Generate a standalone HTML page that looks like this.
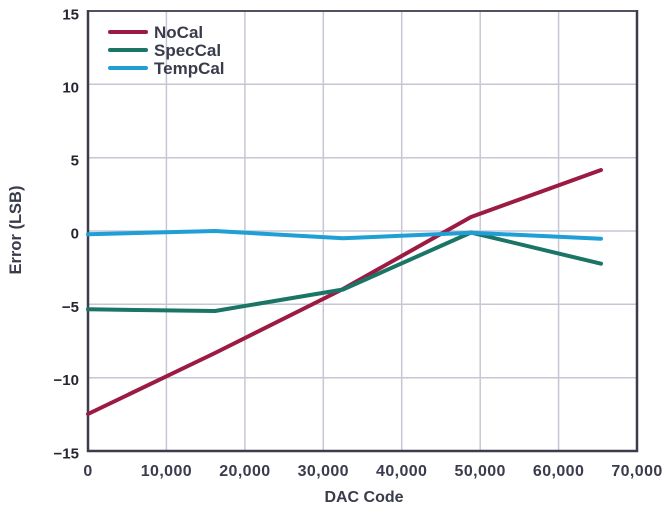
<!DOCTYPE html>
<html>
<head>
<meta charset="utf-8">
<style>
html,body{margin:0;padding:0;background:#ffffff;}
svg{display:block;}
text{font-family:"Liberation Sans",Arial,sans-serif;font-weight:bold;}
</style>
</head>
<body>
<svg width="671" height="512" viewBox="0 0 671 512" xmlns="http://www.w3.org/2000/svg">
  <rect x="0" y="0" width="671" height="512" fill="#ffffff"/>
  <!-- grid -->
  <g stroke="#c6c7d4" stroke-width="1.5" fill="none">
    <line x1="166.4" y1="11" x2="166.4" y2="451"/>
    <line x1="244.9" y1="11" x2="244.9" y2="451"/>
    <line x1="323.3" y1="11" x2="323.3" y2="451"/>
    <line x1="401.7" y1="11" x2="401.7" y2="451"/>
    <line x1="480.2" y1="11" x2="480.2" y2="451"/>
    <line x1="558.6" y1="11" x2="558.6" y2="451"/>
    <line x1="88" y1="84.3" x2="637" y2="84.3"/>
    <line x1="88" y1="157.7" x2="637" y2="157.7"/>
    <line x1="88" y1="231" x2="637" y2="231"/>
    <line x1="88" y1="304.3" x2="637" y2="304.3"/>
    <line x1="88" y1="377.7" x2="637" y2="377.7"/>
  </g>
  <!-- frame -->
  <line x1="88" y1="11" x2="637" y2="11" stroke="#50525f" stroke-width="2"/>
  <line x1="637" y1="10" x2="637" y2="452" stroke="#3b3d4b" stroke-width="2.5"/>
  <line x1="88" y1="10" x2="88" y2="452" stroke="#3b3d4b" stroke-width="2.5"/>
  <line x1="87" y1="451" x2="638" y2="451" stroke="#3b3d4b" stroke-width="2.5"/>

  <!-- series -->
  <g fill="none" stroke-width="4" stroke-linejoin="round" stroke-linecap="round">
    <polyline stroke="#9c1b43" points="88,414 215,353 343,289 471,217 601,170"/>
    <polyline stroke="#1a7567" points="88,309.3 215,311 343,289.5 471,232.5 601,263.7"/>
    <polyline stroke="#1f9fd5" points="88,234.3 215,231 343,238.3 471,232.7 601,238.7"/>
  </g>

  <!-- legend -->
  <g stroke-width="4" stroke-linecap="round">
    <line x1="110" y1="32" x2="146" y2="32" stroke="#9c1b43"/>
    <line x1="110" y1="50" x2="146" y2="50" stroke="#1a7567"/>
    <line x1="110" y1="68" x2="146" y2="68" stroke="#1f9fd5"/>
  </g>
  <g fill="#3a3c4c" font-size="17">
    <text x="154" y="38">NoCal</text>
    <text x="154" y="56">SpecCal</text>
    <text x="154" y="74">TempCal</text>
  </g>

  <!-- y tick labels -->
  <g fill="#25262f" font-size="15" text-anchor="end">
    <text x="79" y="19.5">15</text>
    <text x="79" y="92.5">10</text>
    <text x="79" y="165.5">5</text>
    <text x="79" y="238.5">0</text>
    <text x="79" y="312">−5</text>
    <text x="79" y="385">−10</text>
    <text x="79" y="458.5">−15</text>
  </g>

  <!-- x tick labels -->
  <g fill="#3a3c4c" font-size="16" text-anchor="middle" letter-spacing="0.4">
    <text x="88" y="476">0</text>
    <text x="166.4" y="476">10,000</text>
    <text x="244.9" y="476">20,000</text>
    <text x="323.3" y="476">30,000</text>
    <text x="401.7" y="476">40,000</text>
    <text x="480.2" y="476">50,000</text>
    <text x="558.6" y="476">60,000</text>
    <text x="637" y="476">70,000</text>
  </g>

  <!-- axis titles -->
  <text x="364" y="502" fill="#3a3c4c" font-size="16" text-anchor="middle">DAC Code</text>
  <text transform="translate(21,230) rotate(-90)" fill="#3a3c4c" font-size="16.5" text-anchor="middle">Error (LSB)</text>
</svg>
</body>
</html>
